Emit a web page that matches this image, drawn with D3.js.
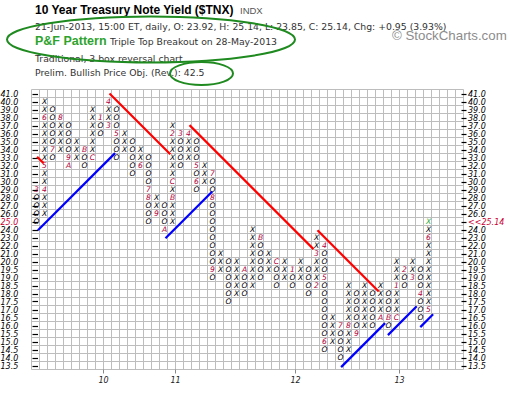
<!DOCTYPE html>
<html><head><meta charset="utf-8">
<script src="https://cdn.jsdelivr.net/npm/d3@7"></script>
<style>body{margin:0;background:#fff;overflow:hidden}</style>
</head><body>
<svg id="c" width="520" height="394"></svg>
<script>
// ---------- DATA ----------
const levels = [41,40,39,38,37,36,35,34,33,32,31,30,29,28,27,26,25,24,23,22,21,20,
                19.5,19,18.5,18,17.5,17,16.5,16,15.5,15,14.5,14,13.5];
const colType = ["O","X","O","X","O","X","O","X","O","X","O","X","O","X","O","X","O","X","O","X",
                 "O","X","O","X","O","X","O","X","O","X","O","X","O","X","O","X","O","X","O","X",
                 "O","X","O","X","O","X","O","X","O","X"];
const colFrom = [29,26,39,34,37,33,34,33,38,37,39,34,35,32,33,26,27,25,36,33,
                 35,30,31,19.5,20,18,19.5,18.5,23,19.5,20,19,19.5,19,19.5,18.5,22,15,16,14.5,
                 18,16,18,16.5,18,16.5,19.5,19,19.5,17];
const colTo   = [25,40,33,38,32,35,32,39,36,40,33,36,31,34,25,28,24,37,32,36,
                 29,32,19,21,17.5,20,18,24,19,21,18.5,20,18.5,20,18,23,14.5,16.5,14,18.5,
                 15.5,18.5,16,18.5,16,20,18.5,20,16.5,25];
const markCol   = [1,2,2,2,3,4,5,5,7,8,9,10,10,11,14,15,15,16,17,18,18,18,19,20,21,21,
                   23,23,23,27,29,31,33,36,36,37,37,37,39,40,41,44,45,46,46,47,48,49,50,50];
const markLevel = [29,29,32,38,34,38,33,32,34,33,38,37,40,36,32,29,28,26,24,28,30,36,36,36,32,30,
                   31,28,19.5,19.5,23,20,19.5,18.5,21,22,19,15,16,16,15.5,16.5,16.5,16.5,18.5,19.5,19,18,17,23];
const markText  = ["3","4","5","6","7","8","9","A","B","C","1","3","4","5","6","7","8","9","A","B","C","2","3","4","5","6",
                   "7","8","9","A","B","C","1","2","3","4","5","6","7","8","9","A","B","C","1","2","3","4","5","6"];
const lastCol = 50, lastLevel = 25;
const yearCol  = [9,18,33,46];
const yearText = ["10","11","12","13"];
const priceNow = "25.14", priceLevel = 25;
// trend lines: [colStart, boxStart, colEnd, boxEnd] in grid units
const redLines  = [[0.7,8.4,1.5,9.2],[9.75,0.5,17.35,8.1],[19.75,4.45,35.25,19.95],[35.75,17.6,43.4,25.25]];
const blueLines = [[0.8,17.6,10.45,7.95],[16.75,18.6,22.6,12.75],[38.7,34.7,44.2,29.2],[44.55,30.7,48.15,27.1],[48.6,29.7,50.2,28.1]];
const nCols = 54;
const title = "10 Year Treasury Note Yield ($TNX)";
const infoLine = "21-Jun-2013, 15:00 ET, daily, O: 23.92, H: 25.14, L: 23.85, C: 25.14, Chg: +0.95 (3.93%)";
const patternName = "P&F Pattern", patternText = "Triple Top Breakout on 28-May-2013";
const chartType = "Traditional, 3 box reversal chart";
const objective = "Prelim. Bullish Price Obj. (Rev.): 42.5";

// ---------- DRAW ----------
const svg = d3.select("#c");
svg.append("rect").attr("width",520).attr("height",394).attr("fill","#fff");
const x = d3.scaleLinear().domain([0,nCols]).range([31.5,463.5]);
const y = d3.scaleLinear().domain([0,levels.length]).range([89.5,369.5]);
const idx = v => levels.indexOf(v);
const cy = v => y(idx(v)+0.5);
const cx = c => x(c-0.5);

// grid
const g = svg.append("g");
g.selectAll("line.v").data(d3.range(nCols+1)).join("line")
  .attr("x1",d=>x(d)).attr("x2",d=>x(d)).attr("y1",y(0)).attr("y2",y(levels.length))
  .attr("stroke","#bdbdbd").attr("stroke-width",1);
g.selectAll("line.h").data(d3.range(levels.length+1)).join("line")
  .attr("y1",d=>y(d)).attr("y2",d=>y(d)).attr("x1",x(0)).attr("x2",x(nCols))
  .attr("stroke","#bdbdbd").attr("stroke-width",1);

// axis ticks & labels
const fmt = d3.format(".1f");
const ax = svg.append("g").attr("font-family","DejaVu Sans, Verdana, sans-serif").attr("font-style","italic").attr("font-size","8px");
levels.forEach(v=>{
  const ty = Math.round(cy(v))+0.5;
  ax.append("line").attr("x1",x(0)+1).attr("x2",x(0)+6.5).attr("y1",ty).attr("y2",ty).attr("stroke","#000").attr("stroke-width",1.2);
  ax.append("line").attr("x1",x(nCols)-2).attr("x2",x(nCols)+3).attr("y1",ty).attr("y2",ty).attr("stroke","#000").attr("stroke-width",1.2);
  ax.append("text").attr("x",0.5).attr("y",cy(v)+3).attr("fill", v===priceLevel?"#cc0033":"#000").text(fmt(v));
  ax.append("text").attr("x",x(nCols)+4.5).attr("y",cy(v)+3)
    .attr("fill", v===priceLevel?"#cc0033":"#000").text(v===priceLevel?"<<"+priceNow:fmt(v));
});
yearCol.forEach((c,i)=>{
  ax.append("line").attr("x1",x(c)).attr("x2",x(c)).attr("y1",y(levels.length)).attr("y2",y(levels.length)+4).attr("stroke","#888");
  ax.append("text").attr("x",x(c)).attr("y",383).attr("text-anchor","middle").attr("fill","#222").text(yearText[i]);
});

// boxes
const marks = new Map();
markCol.forEach((c,i)=>marks.set(c+"|"+markLevel[i], markText[i]));
const boxes = [];
colType.forEach((t,i)=>{
  const c=i+1; let a=idx(colFrom[i]), b=idx(colTo[i]);
  const lo=Math.min(a,b), hi=Math.max(a,b);
  for(let k=lo;k<=hi;k++){
    const lv=levels[k], key=c+"|"+lv;
    let txt=t, col="#000";
    if(marks.has(key)){txt=marks.get(key); col="#b0003a";}
    if(c===lastCol && lv===lastLevel){col="#33aa33";}
    boxes.push({c,lv,txt,col});
  }
});
svg.append("g").attr("font-family","DejaVu Sans, Verdana, sans-serif").attr("font-style","italic").attr("font-size","7.6px")
  .selectAll("text").data(boxes).join("text")
  .attr("x",d=>cx(d.c)+1).attr("y",d=>cy(d.lv)+2.8).attr("text-anchor","middle")
  .attr("fill",d=>d.col).text(d=>d.txt);

// trend lines
const tl = svg.append("g").attr("stroke-linecap","butt");
tl.selectAll("line.r").data(redLines).join("line")
  .attr("x1",d=>x(d[0])).attr("y1",d=>y(d[1])).attr("x2",d=>x(d[2])).attr("y2",d=>y(d[3]))
  .attr("stroke","#ff0000").attr("stroke-width",2.2);
tl.selectAll("line.b").data(blueLines).join("line")
  .attr("x1",d=>x(d[0])).attr("y1",d=>y(d[1])).attr("x2",d=>x(d[2])).attr("y2",d=>y(d[3]))
  .attr("stroke","#0000ff").attr("stroke-width",2.2);

// header
const hd = svg.append("g");
hd.append("text").attr("x",35).attr("y",14).attr("font-family","Liberation Sans, Arial").attr("font-weight","bold").attr("font-size","12px").attr("fill","#000").text(title);
hd.append("text").attr("x",240).attr("y",14).attr("font-family","Liberation Sans, Arial").attr("font-size","9.5px").attr("fill","#555").text("INDX");
const small = {family:"DejaVu Sans", size:"9.3px", fill:"#333"};
hd.append("text").attr("x",35).attr("y",30).attr("font-family",small.family).attr("font-size",small.size).attr("fill",small.fill).text(infoLine);
hd.append("text").attr("x",35).attr("y",45).attr("font-family","Liberation Sans, Arial").attr("font-weight","bold").attr("font-size","12.5px").attr("fill","#2ea32e").text(patternName);
hd.append("text").attr("x",110).attr("y",45).attr("font-family",small.family).attr("font-size",small.size).attr("fill",small.fill).text(patternText);
hd.append("text").attr("x",35).attr("y",61.5).attr("font-family",small.family).attr("font-size",small.size).attr("fill",small.fill).text(chartType);
hd.append("text").attr("x",35).attr("y",76).attr("font-family",small.family).attr("font-size",small.size).attr("fill",small.fill).text(objective);
hd.append("text").attr("x",392).attr("y",40).attr("font-family","Liberation Sans, Arial").attr("font-size","13.3px").attr("fill","#8c8c8c").text("\u00A9 StockCharts.com");
// annotation ellipses
hd.append("ellipse").attr("cx",151).attr("cy",39.5).attr("rx",144).attr("ry",23).attr("fill","none").attr("stroke","#1f8a1f").attr("stroke-width",2);
hd.append("ellipse").attr("cx",201.5).attr("cy",73.5).attr("rx",31.5).attr("ry",11.5).attr("fill","none").attr("stroke","#1f8a1f").attr("stroke-width",2);
</script>
</body></html>
